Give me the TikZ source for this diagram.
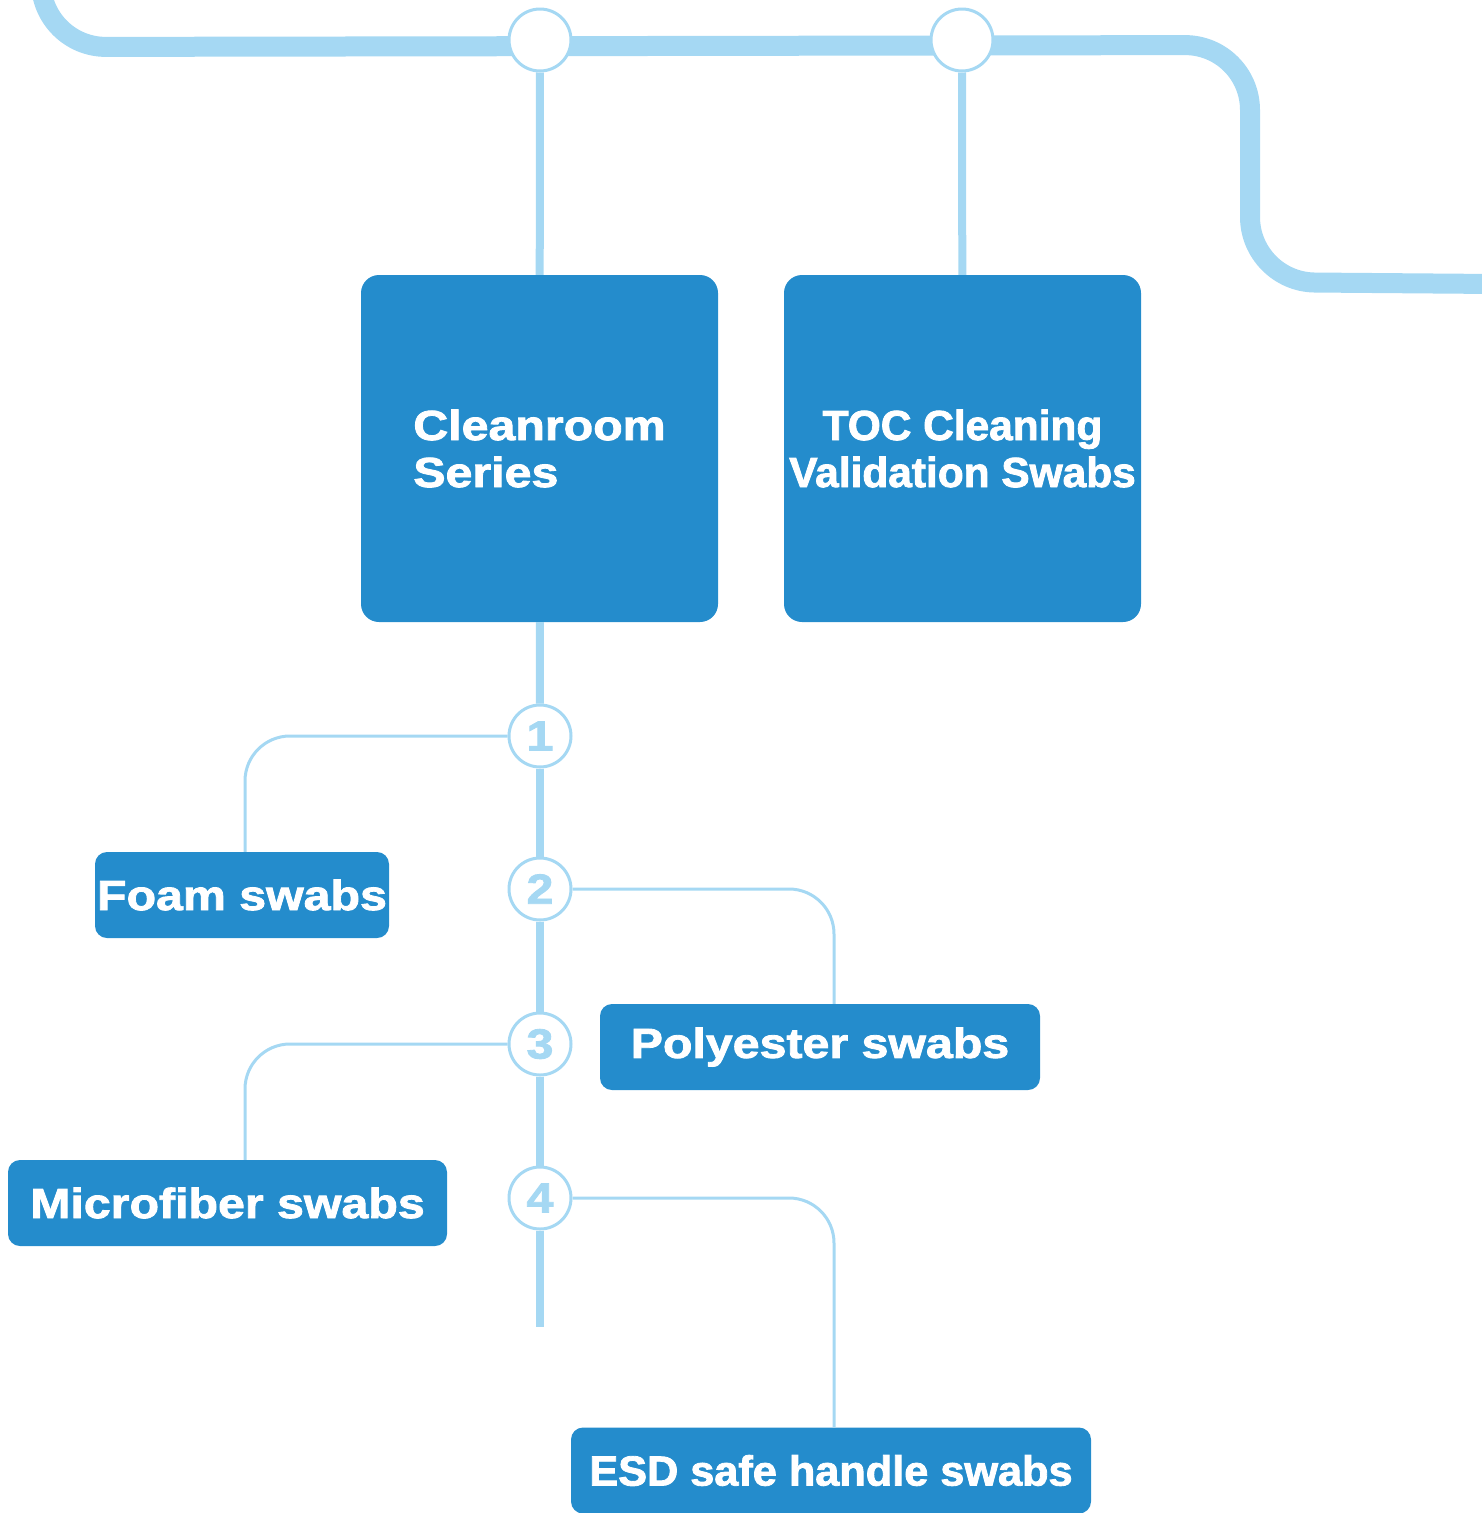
\documentclass[tikz,border=0pt]{standalone}
\usepackage{fontspec}
\newfontfamily\boxfont{Liberation Sans}[FakeStretch=1.15, FakeBold=2]
\newfontfamily\narrowfont{Liberation Sans}[FakeStretch=1.03, FakeBold=2]
\newfontfamily\tocfont{Liberation Sans}[FakeStretch=1.01, FakeBold=2]
\definecolor{trackblue}{RGB}{165,216,243}
\definecolor{boxblue}{RGB}{36,140,204}
\begin{document}
\begin{tikzpicture}[x=1pt, y=-1pt,
  track/.style = {draw=trackblue, line width=20pt, rounded corners=65pt},
  stem/.style = {draw=trackblue, line width=8pt},
  branch/.style = {draw=trackblue, line width=3pt, rounded corners=45pt},
  station/.style = {circle, draw=trackblue, line width=3pt, fill=white, minimum size=62pt, inner sep=0pt, text=trackblue, font=\boxfont\bfseries\fontsize{42}{47}\selectfont},
  series/.style = {rectangle, fill=boxblue, rounded corners=18pt, minimum width=357pt, minimum height=347pt, inner sep=0pt, text=white, font=\boxfont\bfseries\fontsize{42}{47}\selectfont},
  swab/.style = {rectangle, fill=boxblue, rounded corners=12pt, minimum height=86pt, inner sep=0pt, text=white, font=\boxfont\bfseries\fontsize{42}{47}\selectfont}]
\useasboundingbox (0,0) rectangle (1481,1513);
\coordinate (t0) at (41,-20);
\coordinate (t1) at (1495,284);
\draw[track] (t0) -- (41,47) -- (1250,45) -- (1250,282) -- (t1);
\node[station] (st1) at (540,40) {};
\node[station] (st2) at (962,40) {};
\node[series, align=left] (clean) at (539.5,448.5) {Cleanroom\\Series};
\node[series, align=center, font=\tocfont\bfseries\fontsize{42}{47}\selectfont] (toc) at (962.5,448.5) {TOC Cleaning\\Validation Swabs};
\node[station] (n1) at (540,736) {1};
\node[station] (n2) at (540,889) {2};
\node[station] (n3) at (540,1044) {3};
\node[station] (n4) at (540,1198) {4};
\coordinate (tail) at (540,1327);
\node[swab, minimum width=294pt] (foam) at (242,895) {Foam swabs};
\node[swab, minimum width=440pt] (poly) at (820,1047) {Polyester swabs};
\node[swab, minimum width=439pt] (micro) at (227.5,1203) {Microfiber swabs};
\node[swab, minimum width=520pt, font=\narrowfont\bfseries\fontsize{42}{47}\selectfont] (esd) at (831,1470.5) {ESD safe handle swabs};
\draw[stem] (st1) -- (clean);
\draw[stem] (st2) -- (toc);
\draw[stem] (clean) -- (n1);
\draw[stem] (n1) -- (n2);
\draw[stem] (n2) -- (n3);
\draw[stem] (n3) -- (n4);
\draw[stem] (n4) -- (tail);
\draw[branch] (n1) -| ([xshift=3pt]foam.north);
\draw[branch] (n2) -| ([xshift=14pt]poly.north);
\draw[branch] (n3) -| ([xshift=17.5pt]micro.north);
\draw[branch] (n4) -| ([xshift=3pt]esd.north);
\end{tikzpicture}
\end{document}
